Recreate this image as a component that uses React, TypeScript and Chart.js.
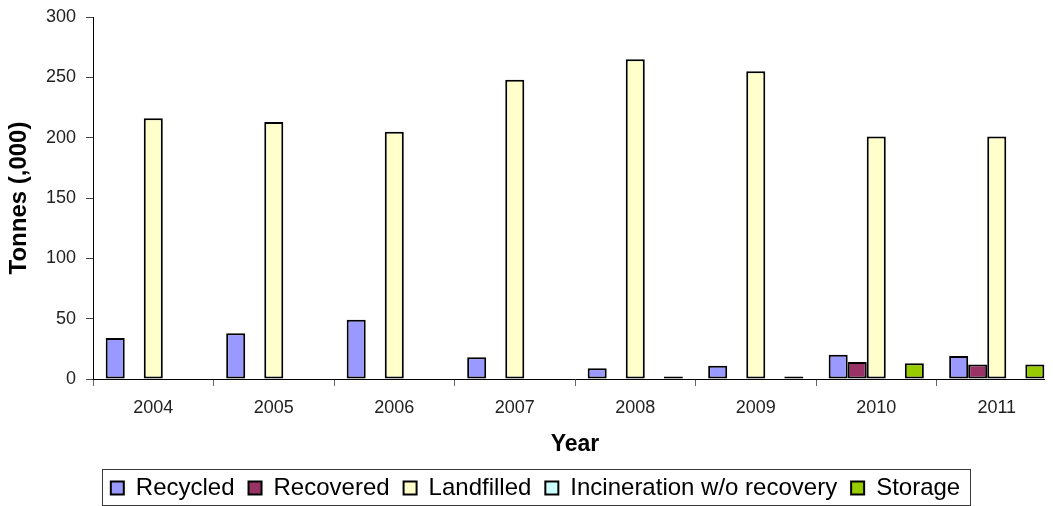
import { useEffect, useRef } from "react";
import { Chart, registerables } from "chart.js";

Chart.register(...registerables);

const years = ["2004", "2005", "2006", "2007", "2008", "2009", "2010", "2011"];
const recycled = [34, 38, 49, 18, 9, 11, 20, 19];
const recovered = [0, 0, 0, 0, 0, 0, 14, 12];
const landfilled = [216, 213, 205, 248, 265, 255, 201, 201];
const incineration = [0, 0, 0, 0, 0, 0, 0, 0];
const storage = [0, 0, 0, 0, 2, 2, 13, 12];
const yTickValues = [0, 50, 100, 150, 200, 250, 300];

const FONT = "'Liberation Sans', Arial, sans-serif";

const legendShift = {
  id: "legendShift",
  afterLayout(chart: any) {
    const lg = chart.legend;
    if (lg) {
      lg.left += 7;
      lg.right += 7;
    }
  },
};

const legendFrame = {
  id: "legendFrame",
  afterDraw(chart: any) {
    const boxes = chart.legend?.legendHitBoxes;
    if (!boxes || !boxes.length) return;
    const first = boxes[0];
    const last = boxes[boxes.length - 1];
    const ctx = chart.ctx;
    const l = Math.round(first.left - 9) + 0.5;
    const r = Math.round(last.left + last.width + 10) + 0.5;
    const t = Math.round(first.top - 7) + 0.5;
    const b = Math.round(first.top + first.height + 5) + 0.5;
    ctx.save();
    ctx.strokeStyle = "#3a3a3a";
    ctx.lineWidth = 1;
    ctx.strokeRect(l, t, r - l, b - t);
    ctx.restore();
  },
};

export default function App() {
  const ref = useRef<HTMLCanvasElement | null>(null);

  useEffect(() => {
    if (!ref.current) return;
    const mk = (label: string, data: number[], color: string) => ({
      label,
      data,
      backgroundColor: color,
      borderColor: "#000000",
      borderWidth: 2,
      borderSkipped: false,
      categoryPercentage: 0.79,
      barPercentage: 1,
    });
    const chart = new Chart(ref.current, {
      type: "bar",
      data: {
        labels: years,
        datasets: [
          mk("Recycled", recycled, "#9999FF"),
          mk("Recovered", recovered, "#993366"),
          mk("Landfilled", landfilled, "#FFFFCC"),
          mk("Incineration w/o recovery", incineration, "#CCFFFF"),
          mk("Storage", storage, "#99CC00"),
        ] as any,
      },
      options: {
        animation: false,
        responsive: false,
        devicePixelRatio: 1,
        layout: { padding: { top: 17, right: 26, left: 0, bottom: 0 } },
        plugins: {
          tooltip: { enabled: false },
          legend: {
            position: "bottom",
            labels: {
              boxWidth: 13,
              boxHeight: 13,
              padding: 14,
              color: "#000",
              font: { family: FONT, size: 24 },
            },
          },
        },
        scales: {
          x: {
            grid: {
              display: true,
              drawOnChartArea: false,
              drawTicks: true,
              tickLength: 7,
              color: "#666",
              offset: true,
            },
            border: { display: true, color: "#000", width: 1 },
            ticks: {
              padding: 11,
              color: "#222",
              font: { family: FONT, size: 18 },
              maxRotation: 0,
            },
            title: {
              display: true,
              text: "Year",
              color: "#000",
              font: { family: FONT, size: 23, weight: "bold" },
              padding: { top: 1.6, bottom: 3.2 },
            },
          },
          y: {
            min: 0,
            max: 300,
            afterBuildTicks: (scale: any) => {
              scale.ticks = yTickValues.map((v) => ({ value: v }));
            },
            grid: {
              display: true,
              drawOnChartArea: false,
              drawTicks: true,
              tickLength: 7,
              color: "#444",
            },
            border: { display: true, color: "#000", width: 1 },
            ticks: {
              padding: 10,
              color: "#222",
              font: { family: FONT, size: 18, lineHeight: 0.6 },
            },
            title: {
              display: true,
              text: "Tonnes (,000)",
              color: "#000",
              font: { family: FONT, size: 24, weight: "bold", lineHeight: 1.15 },
              padding: { top: 5.7, bottom: 2.7 },
            },
          },
        },
      },
      plugins: [legendShift, legendFrame],
    });
    return () => chart.destroy();
  }, []);

  return (
    <div
      style={{
        position: "fixed",
        left: 0,
        top: 0,
        width: 1053,
        height: 506,
        overflow: "hidden",
        background: "#fff",
      }}
    >
      <div style={{ width: 1045, height: 506, overflow: "hidden" }}>
        <canvas ref={ref} width={1083} height={510} style={{ display: "block" }} />
      </div>
    </div>
  );
}
